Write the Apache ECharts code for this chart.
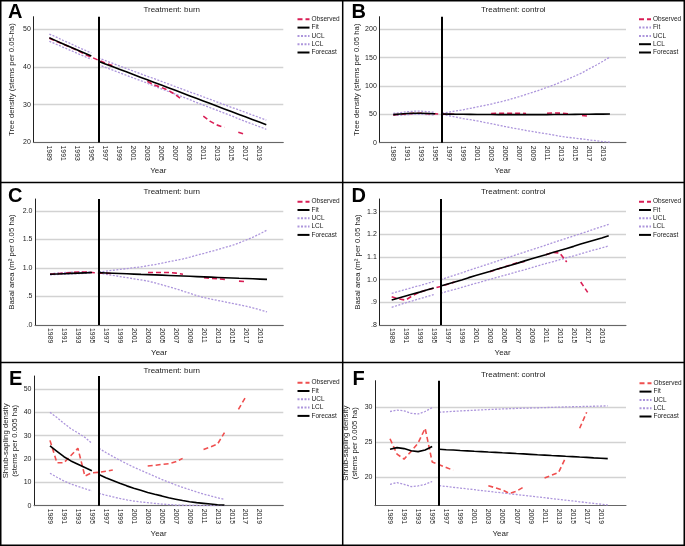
<!DOCTYPE html>
<html><head><meta charset="utf-8">
<script src="https://cdn.jsdelivr.net/npm/echarts@6/dist/echarts.min.js"></script>
<style>html,body{margin:0;padding:0;background:#fff}#c{width:685px;height:546px}</style>
</head><body><div id="c"></div>
<script>
// ---------- DATA ----------
const obsYears = [1989,1990,1991,1992,1993,1994,1995,1996,1997,1998,1999,2000,2001,2002,2003,2004,2005,2006,2007,2008,2009,2010,2011,2012,2013,2014,2015,2016,2017];
const fitYears = [1989,1990,1991,1992,1993,1994,1995];
const fcYears = [1996,1997,1998,1999,2000,2001,2002,2003,2004,2005,2006,2007,2008,2009,2010,2011,2012,2013,2014,2015,2016,2017,2018,2019,2020];
const fcYearsE = [1996,1997,1998,1999,2000,2001,2002,2003,2004,2005,2006,2007,2008,2009,2010,2011,2012,2013,2014];
const yearTicks = [1989,1991,1993,1995,1997,1999,2001,2003,2005,2007,2009,2011,2013,2015,2017,2019];
const forecastStart = 1996;

// Panel A: tree density, burn
const obsA = [47.6,46.8,46.0,45.2,44.4,43.4,42.6,41.8,41.0,40.4,null,null,null,null,36.2,35.2,34.6,33.8,32.7,31.3,null,null,27.0,25.6,24.6,24.0,null,22.7,22.1];
const fitA = [47.7,46.9,46.1,45.3,44.5,43.7,42.9];
const uclPreA = [48.7,47.9,47.0,46.2,45.3,44.5,43.7];
const lclPreA = [46.8,46.0,45.2,44.4,43.6,42.8,42.0];
const fcA = [41.5,40.8,40.1,39.4,38.7,38.0,37.3,36.6,35.9,35.2,34.5,33.8,33.1,32.4,31.7,31.0,30.3,29.6,28.9,28.2,27.5,26.8,26.1,25.4,24.7];
const uclFcA = [42.4,41.7,41.0,40.3,39.6,38.9,38.2,37.5,36.9,36.2,35.5,34.8,34.1,33.4,32.8,32.1,31.4,30.7,30.0,29.3,28.7,28.0,27.3,26.6,25.9];
const lclFcA = [40.6,39.9,39.2,38.5,37.8,37.1,36.4,35.7,34.9,34.2,33.5,32.8,32.1,31.4,30.6,29.9,29.2,28.5,27.8,27.1,26.3,25.6,24.9,24.2,23.5];
const yTicksA = [20,30,40,50];

// Panel B: tree density, control
const obsB = [49,50,51,52,52,51,51,50,50,50,null,null,null,null,51.5,52,52,52,52,51.5,null,null,52,52.5,52,51,null,48,46.5];
const fitB = [49.5,50.5,51.5,52,52,51.5,51];
const uclPreB = [51.5,53,54.5,55.5,55.5,54.5,53.5];
const lclPreB = [48,48.5,49.5,50,50,49.5,49];
const fcB = [50.5,50.3,50.1,50,49.9,49.8,49.7,49.6,49.5,49.5,49.4,49.4,49.4,49.4,49.5,49.5,49.6,49.7,49.8,49.9,50,50.1,50.3,50.4,50.6];
const uclFcB = [52,54,56,58,60.5,63,65.5,68,71,74,77.5,81,85,89,93,97.5,102,107,112,117.5,123,130,136.5,143.5,151];
const lclFcB = [50,47.5,45,42.5,40.5,38.5,36,33.5,31,28.5,26,24,21.5,19.5,17.5,15.5,13.5,11,9.5,8,6.5,5,3.5,2,1];
const yTicksB = [0,50,100,150,200];

// Panel C: basal area, burn
const obsC = [0.89,0.90,0.91,0.92,0.93,0.93,0.92,0.91,0.91,0.90,null,null,null,null,0.92,0.92,0.92,0.92,0.91,0.89,null,null,0.83,0.82,0.81,0.80,null,0.77,0.76];
const fitC = [0.89,0.895,0.90,0.905,0.91,0.915,0.92];
const uclPreC = [0.90,0.91,0.92,0.925,0.93,0.93,0.93];
const lclPreC = [0.88,0.885,0.89,0.895,0.90,0.905,0.91];
const fcC = [0.918,0.913,0.908,0.903,0.898,0.893,0.888,0.884,0.879,0.874,0.869,0.864,0.859,0.854,0.849,0.844,0.839,0.834,0.829,0.824,0.819,0.815,0.810,0.805,0.800];
const uclFcC = [0.93,0.945,0.96,0.975,0.99,1.005,1.02,1.04,1.06,1.085,1.11,1.135,1.16,1.19,1.225,1.257,1.29,1.325,1.36,1.395,1.44,1.49,1.54,1.60,1.665];
const lclFcC = [0.91,0.89,0.87,0.85,0.83,0.81,0.79,0.77,0.74,0.705,0.67,0.635,0.595,0.555,0.515,0.48,0.455,0.43,0.405,0.38,0.355,0.33,0.30,0.265,0.23];
const yTicksC = [0,0.5,1.0,1.5,2.0];

// Panel D: basal area, control
const obsD = [0.925,0.915,0.91,0.93,0.945,0.955,0.962,0.97,0.98,0.99,null,null,null,null,1.035,1.045,1.055,1.065,1.075,1.08,null,null,1.11,1.12,1.118,1.078,null,0.99,0.944];
const fitD = [0.91,0.919,0.928,0.937,0.945,0.954,0.963];
const uclPreD = [0.94,0.948,0.957,0.966,0.974,0.983,0.992];
const lclPreD = [0.878,0.888,0.898,0.907,0.916,0.925,0.934];
const fcD = [0.972,0.981,0.99,0.999,1.009,1.018,1.027,1.036,1.046,1.055,1.064,1.073,1.083,1.092,1.101,1.11,1.12,1.129,1.138,1.147,1.157,1.166,1.175,1.184,1.194];
const uclFcD = [1.0,1.01,1.02,1.03,1.041,1.051,1.061,1.071,1.081,1.092,1.102,1.112,1.122,1.132,1.142,1.152,1.163,1.173,1.183,1.193,1.203,1.213,1.224,1.234,1.244];
const lclFcD = [0.94,0.949,0.957,0.966,0.975,0.984,0.992,1.001,1.01,1.018,1.027,1.036,1.044,1.053,1.062,1.071,1.079,1.088,1.097,1.105,1.114,1.123,1.132,1.14,1.149];
const yTicksD = [0.8,0.9,1.0,1.1,1.2,1.3];

// Panel E: shrub-sapling density, burn
const obsE = [28,18.4,18.4,21.5,24.6,12.7,14.1,14.3,14.8,15.3,null,null,null,null,17.0,17.3,17.7,18.0,18.8,20.3,null,null,24.1,25.2,26.4,31.3,null,41.3,46.4];
const fitE = [25.6,23.3,21.0,19.2,17.8,16.4,15.0];
const uclPreE = [40.0,37.8,35.3,33.0,31.2,29.3,26.7];
const lclPreE = [13.9,12.2,10.6,9.3,8.3,7.3,6.3];
const fcE = [13.4,12.0,10.8,9.6,8.5,7.5,6.6,5.7,4.9,4.2,3.4,2.8,2.2,1.7,1.3,1.0,0.7,0.4,0.3];
const uclFcE = [24.6,22.8,21.1,19.5,18.0,16.5,15.2,13.9,12.6,11.3,10.1,8.9,7.9,6.9,5.9,5.0,4.2,3.4,2.7];
const lclFcE = [5.3,4.5,3.8,3.1,2.5,2.0,1.6,1.3,1.0,0.7,0.5,0.3,0.2,0.1,0.1,0.0,0.0,0.0,0.0];
const yTicksE = [0,10,20,30,40,50];

// Panel F: shrub-sapling density, control
const obsF = [25.5,23.3,22.6,23.7,24.9,27.0,22.2,21.8,21.4,21.0,null,null,null,null,18.8,18.5,18.2,17.7,18.0,18.6,null,null,19.9,20.3,20.7,22.8,null,27.0,29.3];
const fitF = [24.0,24.24,24.1,23.8,23.67,23.9,24.4];
const uclPreF = [29.4,29.6,29.5,29.14,29.05,29.4,29.95];
const lclPreF = [19.0,19.24,19.0,18.67,18.76,19.0,19.4];
const fcF = [24.0,23.94,23.89,23.83,23.78,23.72,23.67,23.61,23.56,23.5,23.45,23.39,23.34,23.28,23.22,23.17,23.11,23.06,23.0,22.95,22.89,22.84,22.78,22.73,22.67];
const uclFcF = [29.3,29.36,29.42,29.48,29.53,29.58,29.63,29.68,29.72,29.76,29.8,29.84,29.87,29.9,29.93,29.96,29.99,30.02,30.05,30.08,30.1,30.13,30.15,30.18,30.2];
const lclFcF = [18.8,18.69,18.57,18.46,18.34,18.23,18.11,18.0,17.88,17.77,17.65,17.54,17.42,17.31,17.19,17.08,16.96,16.85,16.73,16.62,16.5,16.39,16.27,16.16,16.05];
const yTicksF = [20,25,30];

const legendNames = ['Observed','Fit','UCL','LCL','Forecast'];

// ---------- STYLE / LAYOUT ----------
const FONT = '"Liberation Sans", Arial, Helvetica, sans-serif';
const RED1 = '#d91e55', RED2 = '#ef4f4f', LAV = '#ad96dc', GRID = '#d2d2d2';
const pair = (xs, ys) => xs.map((x, i) => [x, ys[i]]);
const fmtDec = v => { const s = (Math.round(v * 10) / 10).toFixed(1); return s.startsWith('0') ? s.slice(1) : s; };

const panels = [
  {key:'A', grid:{left:33.3, top:16.7, width:250, height:125.8}, x:[1986.71,2022.43], y:[20,53.3], ticks:yTicksA, fmt:v=>String(v),
   yname:'Tree density (stems per 0.05-ha)', nameGap:17, title:'Treatment: burn', tx:171.7, ty:10, letter:'A', lx:8, ly:12.5, lg:[296.5,15.3],
   red:RED1, obs:obsA, fit:fitA, uclPre:uclPreA, lclPre:lclPreA, fc:fcA, uclFc:uclFcA, lclFc:lclFcA, fcYrs:fcYears, names:{fit:'Fit',ucl:'UCL',lcl:'LCL'}},
  {key:'B', grid:{left:379.3, top:16.7, width:246.7, height:126}, x:[1987.0,2022.3], y:[0,222], ticks:yTicksB, fmt:v=>String(v),
   yname:'Tree density (stems per 0.05 ha)', nameGap:17, title:'Treatment: control', tx:513.3, ty:10, letter:'B', lx:351.5, ly:12.5, lg:[638,15.3],
   red:RED1, obs:obsB, fit:fitB, uclPre:uclPreB, lclPre:lclPreB, fc:fcB, uclFc:uclFcB, lclFc:lclFcB, fcYrs:fcYears, names:{fit:'LCL',ucl:'Fit',lcl:'UCL'}},
  {key:'C', grid:{left:35, top:199, width:248.3, height:126}, x:[1986.86,2022.33], y:[0,2.21], ticks:yTicksC, fmt:fmtDec,
   yname:'Basal area (m² per 0.05 ha)', nameGap:19, title:'Treatment: burn', tx:171.7, ty:191.7, letter:'C', lx:8, ly:196.5, lg:[296.5,197.7],
   red:RED1, obs:obsC, fit:fitC, uclPre:uclPreC, lclPre:lclPreC, fc:fcC, uclFc:uclFcC, lclFc:lclFcC, fcYrs:fcYears, names:{fit:'Fit',ucl:'UCL',lcl:'LCL'}},
  {key:'D', grid:{left:379.3, top:199, width:246.7, height:126}, x:[1987.23,2022.47], y:[0.8,1.356], ticks:yTicksD, fmt:fmtDec,
   yname:'Basal area (m² per 0.05 ha)', nameGap:17, title:'Treatment: control', tx:513.3, ty:191.7, letter:'D', lx:351.5, ly:196.5, lg:[638,197.7],
   red:RED1, obs:obsD, fit:fitD, uclPre:uclPreD, lclPre:lclPreD, fc:fcD, uclFc:uclFcD, lclFc:lclFcD, fcYrs:fcYears, names:{fit:'Fit',ucl:'UCL',lcl:'LCL'}},
  {key:'E', grid:{left:33.3, top:376, width:250, height:129.7}, x:[1986.71,2022.43], y:[0,55.6], ticks:yTicksE, fmt:v=>String(v),
   yname:'Shrub-sapling density\n(stems per 0.005 ha)', nameGap:15, title:'Treatment: burn', tx:171.7, ty:371, letter:'E', lx:9, ly:379, lg:[296.5,378.7],
   red:RED2, obs:obsE, fit:fitE, uclPre:uclPreE, lclPre:lclPreE, fc:fcE, uclFc:uclFcE, lclFc:lclFcE, fcYrs:fcYearsE, names:{fit:'Fit',ucl:'UCL',lcl:'LCL'}},
  {key:'F', grid:{left:375, top:380.7, width:251, height:125}, x:[1986.86,2022.6], y:[15.94,33.8], ticks:yTicksF, fmt:v=>String(v),
   yname:'Shrub-sapling density\n(stems per 0.005 ha)', nameGap:16, title:'Treatment: control', tx:513.3, ty:374.5, letter:'F', lx:352.5, ly:379, lg:[638.5,379.3],
   red:RED2, obs:obsF, fit:fitF, uclPre:uclPreF, lclPre:lclPreF, fc:fcF, uclFc:uclFcF, lclFc:lclFcF, fcYrs:fcYears, names:{fit:'Fit',ucl:'UCL',lcl:'LCL'}}
];

const option = {
  animation:false,
  textStyle:{fontFamily:FONT},
  grid:[], xAxis:[], yAxis:[], series:[], legend:[], graphic:[]
};

const blackStyle = {color:'#000', width:1.6, type:'solid'};
const lavStyle = {color:LAV, width:1.3, type:[2,1.5]};

panels.forEach((p, i) => {
  option.grid.push(Object.assign({containLabel:false}, p.grid));
  option.xAxis.push({
    type:'value', gridIndex:i, min:p.x[0], max:p.x[1],
    name:'Year', nameLocation:'middle', nameGap:24,
    nameTextStyle:{fontSize:8, color:'#222'},
    axisLine:{show:true, onZero:false, lineStyle:{color:'#666', width:1}},
    axisTick:{show:false},
    splitLine:{show:false},
    axisLabel:{customValues:yearTicks, rotate:-90, fontSize:6.9, color:'#222', margin:3, formatter:v=>String(v)}
  });
  option.yAxis.push({
    type:'value', gridIndex:i, min:p.y[0], max:p.y[1],
    name:p.yname, nameLocation:'middle', nameGap:p.nameGap,
    nameTextStyle:{fontSize:7.8, color:'#222', lineHeight:9},
    axisLine:{show:true, lineStyle:{color:'#222', width:1}},
    axisTick:{show:false, customValues:p.ticks},
    axisLabel:{customValues:p.ticks, fontSize:7, color:'#222', margin:2.5, formatter:p.fmt},
    splitLine:{show:true, lineStyle:{color:GRID, width:1.4}}
  });
  const nm = n => n + '#' + p.key;
  const S = (name, data, ls, z, extra) => Object.assign({
    type:'line', name, xAxisIndex:i, yAxisIndex:i, data, symbol:'none', showSymbol:false,
    color:ls.color, itemStyle:{color:ls.color},
    connectNulls:false, lineStyle:ls, z, silent:true
  }, extra || {});
  const uclName = nm(p.names.ucl), lclName = nm(p.names.lcl), fitName = nm(p.names.fit);
  option.series.push(S(nm('Observed'), pair(obsYears, p.obs), {color:p.red, width:1.6, type:[5,3]}, 3));
  option.series.push(S(fitName, pair(fitYears, p.fit), blackStyle, 5));
  option.series.push(S(uclName, pair(fitYears, p.uclPre), lavStyle, 2));
  option.series.push(S(uclName, pair(p.fcYrs, p.uclFc), lavStyle, 2));
  option.series.push(S(lclName, pair(fitYears, p.lclPre), lavStyle, 2));
  option.series.push(S(lclName, pair(p.fcYrs, p.lclFc), lavStyle, 2));
  option.series.push(S(nm('Forecast'), pair(p.fcYrs, p.fc), blackStyle, 5, {
    markLine:{silent:true, symbol:['none','none'], label:{show:false}, animation:false,
      lineStyle:{color:'#000', width:2, type:'solid'}, data:[{xAxis:forecastStart}]}
  }));
  option.legend.push({
    orient:'vertical', left:p.lg[0], top:p.lg[1], padding:0,
    itemWidth:12, itemHeight:8, itemGap:0.3, selectedMode:false,
    itemStyle:{opacity:0},
    textStyle:{fontSize:6.5, color:'#222', lineHeight:8, padding:[0,0,0,-3]},
    formatter:n => n.split('#')[0],
    data:legendNames.map(nm)
  });
  option.graphic.push({type:'text', x:p.lx, y:p.ly, silent:true,
    style:{text:p.letter, fill:'#000', font:'bold 20px ' + FONT, align:'left', verticalAlign:'middle'}});
  option.graphic.push({type:'text', x:p.tx, y:p.ty, silent:true,
    style:{text:p.title, fill:'#222', font:'8px ' + FONT, align:'center', verticalAlign:'middle'}});
});

// panel borders
option.graphic.push({type:'rect', silent:true, shape:{x:0.75, y:0.75, width:683.5, height:544.5}, style:{fill:'none', stroke:'#000', lineWidth:1.5}});
option.graphic.push({type:'line', silent:true, shape:{x1:342.7, y1:0, x2:342.7, y2:546}, style:{stroke:'#000', lineWidth:1.5}});
option.graphic.push({type:'line', silent:true, shape:{x1:0, y1:182.5, x2:685, y2:182.5}, style:{stroke:'#000', lineWidth:1.5}});
option.graphic.push({type:'line', silent:true, shape:{x1:0, y1:362.5, x2:685, y2:362.5}, style:{stroke:'#000', lineWidth:1.5}});

const chart = echarts.init(document.getElementById('c'), null, {renderer:'canvas'});
chart.setOption(option);
</script>
</body></html>
